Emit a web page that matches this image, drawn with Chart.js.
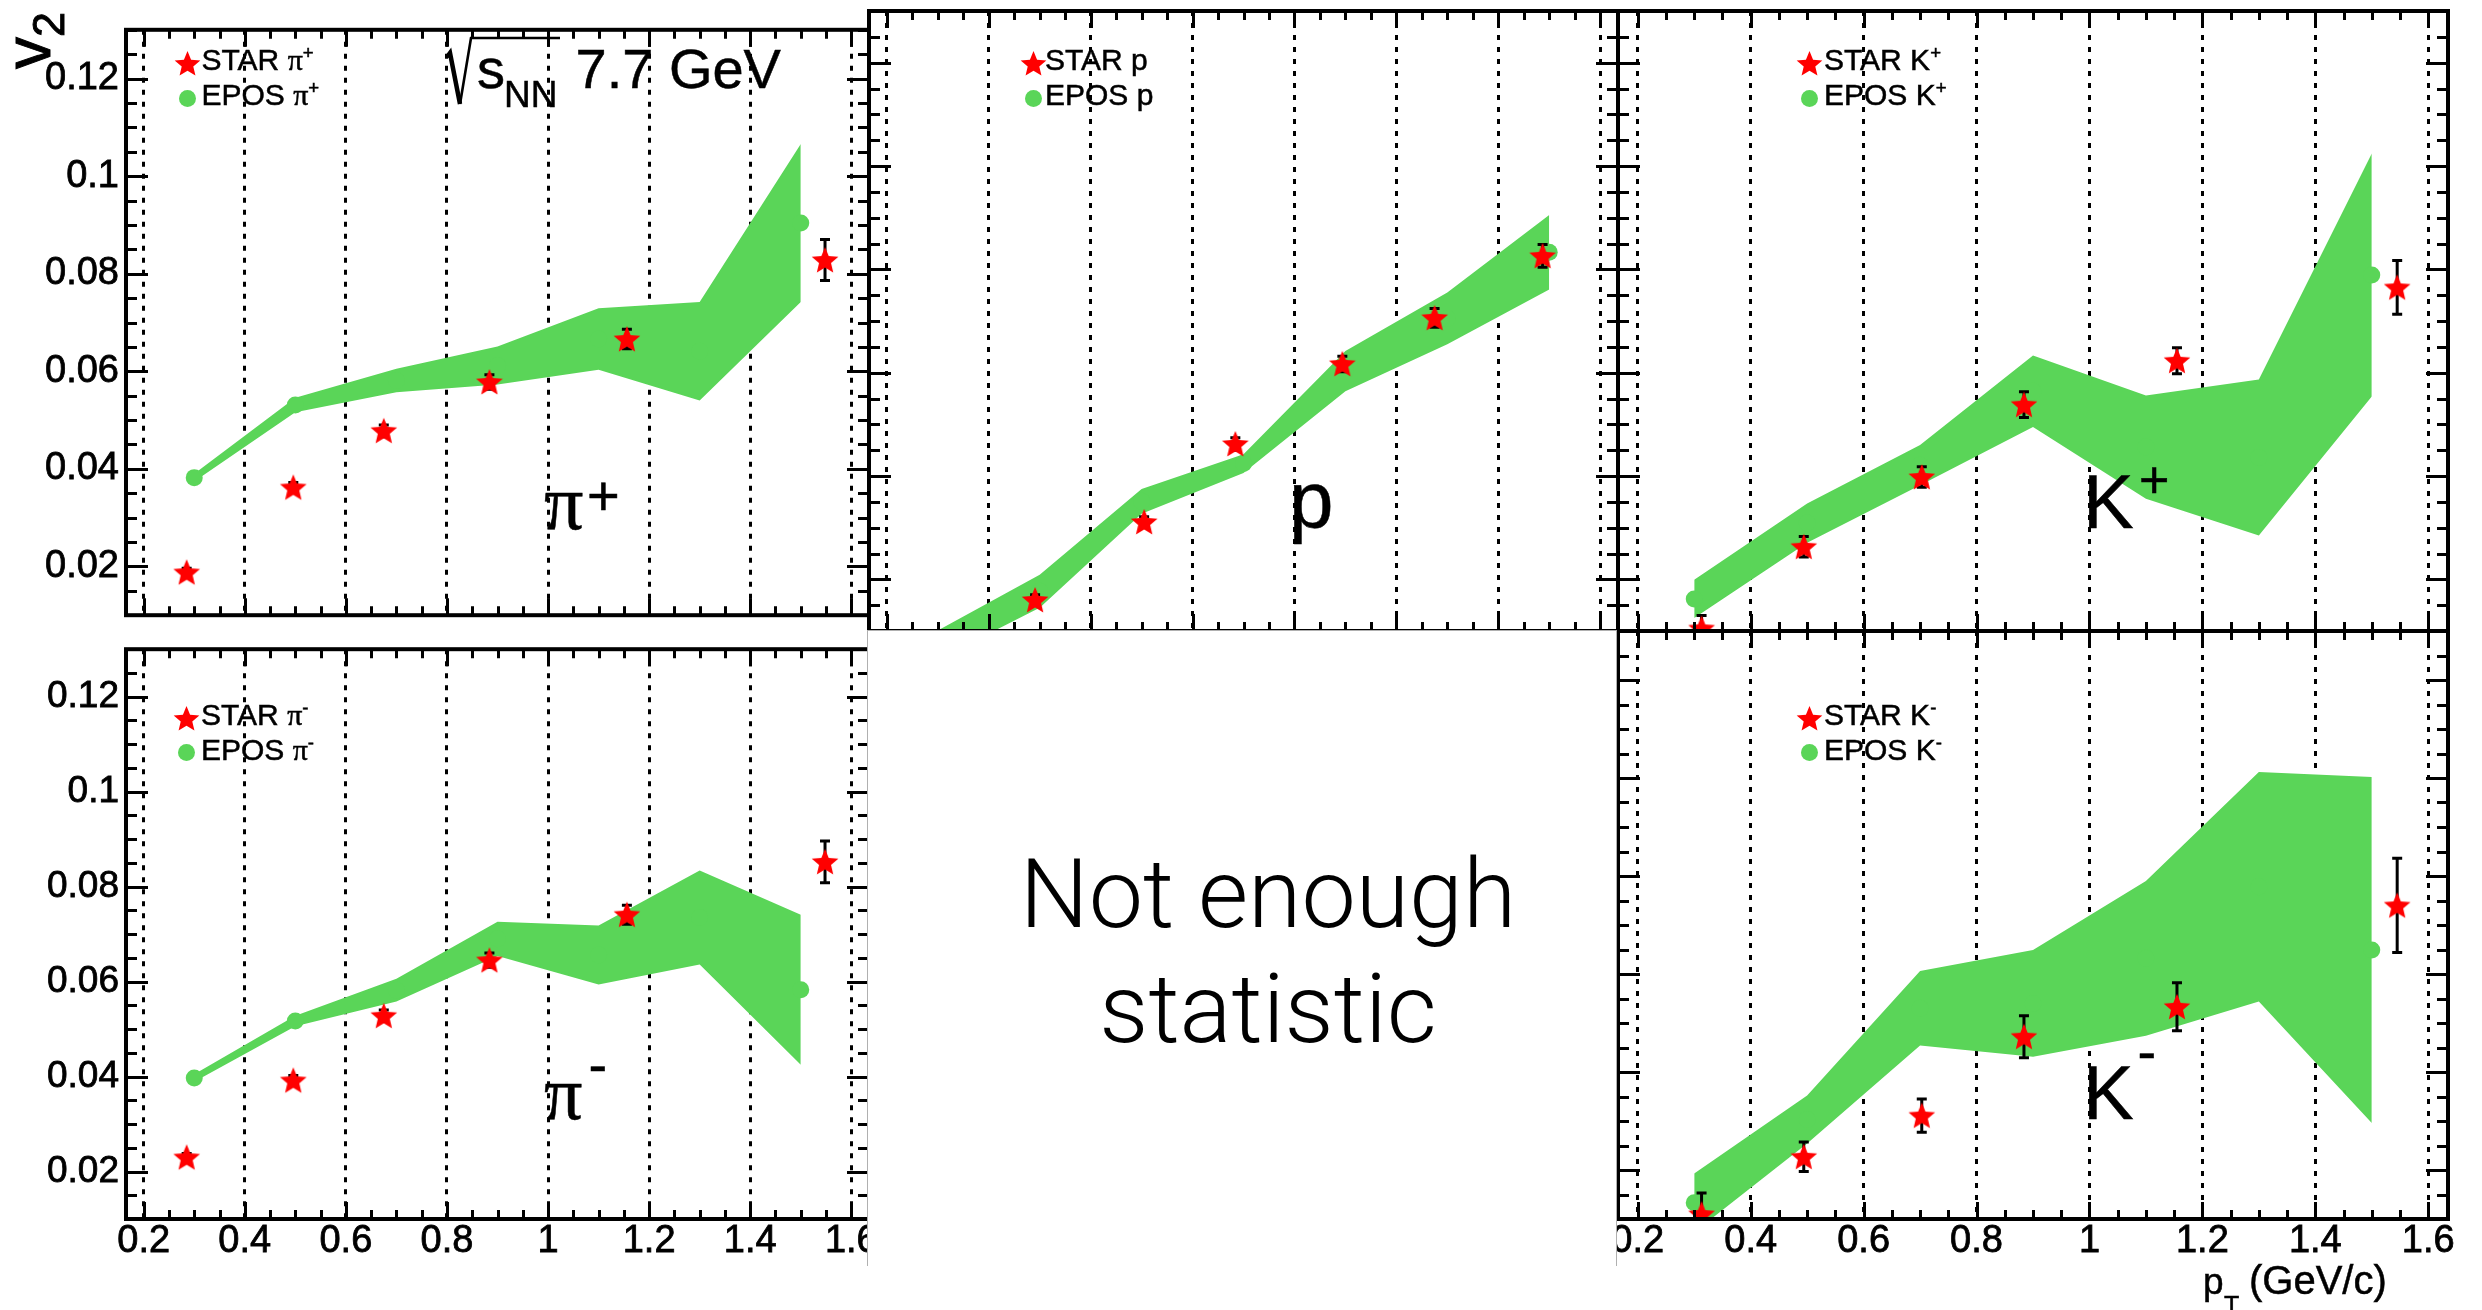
<!DOCTYPE html>
<html>
<head>
<meta charset="utf-8">
<title>v2 vs pT, STAR and EPOS, 7.7 GeV</title>
<script src="https://cdn.jsdelivr.net/npm/chart.js@4.4.1/dist/chart.umd.min.js"></script>
<style>
  html, body { margin: 0; padding: 0; background: #fff; }
  #stage { position: relative; width: 2482px; height: 1310px; overflow: hidden; background: #fff;
           font-family: 'Liberation Sans', Arial, Helvetica, sans-serif; color: #000; }
  #stage canvas { position: absolute; }
  .t { position: absolute; white-space: nowrap; line-height: 1; -webkit-text-stroke: 0.5px #000; }
  .serif { font-family: 'Liberation Serif', 'Times New Roman', serif; }
  .sup { position: relative; top: -0.55em; font-size: 0.62em; }
  #nostat { position: absolute; left: 867px; top: 630px; width: 748px; height: 635px; background: #fff;
            border: 1px solid #b0b0b0; border-bottom: none; }
  .t.light { font-family: Roboto, 'Open Sans', Lato, sans-serif; font-weight: 300; -webkit-text-stroke: 0; }
</style>
</head>
<body>
<div id="stage"></div>
<script>
// ---------------- data ----------------
// transverse momentum of the EPOS calculation (GeV/c)
const EPOS_PT = [0.3, 0.5, 0.7, 0.9, 1.1, 1.3, 1.5];

// transverse momentum of the STAR measurements (GeV/c)
const STAR_PT_PION   = [0.285, 0.496, 0.675, 0.884, 1.156, 1.548];
const STAR_PT_KAON   = [0.313, 0.494, 0.703, 0.884, 1.155, 1.545];
const STAR_PT_PROTON = [0.491, 0.705, 0.884, 1.094, 1.275, 1.487];

// STAR v2 and statistical errors
const STAR_V2_PIP  = [0.0188, 0.0362, 0.0478, 0.0578, 0.0666, 0.0828];
const STAR_ERR_PIP = [0.0008, 0.0010, 0.0012, 0.0015, 0.0020, 0.0042];
const STAR_V2_P    = [0.0160, 0.0311, 0.0462, 0.0617, 0.0706, 0.0826];
const STAR_ERR_P   = [0.0010, 0.0010, 0.0012, 0.0015, 0.0018, 0.0022];
const STAR_V2_KP   = [0.0105, 0.0263, 0.0398, 0.0538, 0.0623, 0.0765];
const STAR_ERR_KP  = [0.0025, 0.0020, 0.0020, 0.0025, 0.0025, 0.0052];
const STAR_V2_PIM  = [0.0230, 0.0392, 0.0528, 0.0645, 0.0741, 0.0852];
const STAR_ERR_PIM = [0.0008, 0.0010, 0.0012, 0.0015, 0.0020, 0.0044];
const STAR_V2_KM   = [0.0110, 0.0227, 0.0311, 0.0472, 0.0533, 0.0740];
const STAR_ERR_KM  = [0.0043, 0.0030, 0.0034, 0.0043, 0.0049, 0.0096];

// EPOS v2 and its uncertainty (drawn as a band)
const EPOS_V2_PIP  = [0.0382, 0.0531, 0.0581, 0.0612, 0.0666, 0.0641, 0.0904];
const EPOS_ERR_PIP = [0.0008, 0.0015, 0.0024, 0.0039, 0.0063, 0.0101, 0.0162];
const EPOS_V2_P    = [0.0073, 0.0177, 0.0351, 0.0424, 0.0603, 0.0705, 0.0833];
const EPOS_ERR_P   = [0.0028, 0.0032, 0.0024, 0.0018, 0.0039, 0.0050, 0.0072];
const EPOS_V2_KP   = [0.0162, 0.0309, 0.0421, 0.0564, 0.0456, 0.0436, 0.0789];
const EPOS_ERR_KP  = [0.0037, 0.0038, 0.0039, 0.0069, 0.0100, 0.0151, 0.0235];
const EPOS_V2_PIM  = [0.0397, 0.0517, 0.0582, 0.0690, 0.0656, 0.0735, 0.0583];
const EPOS_ERR_PIM = [0.0008, 0.0011, 0.0024, 0.0036, 0.0062, 0.0099, 0.0158];
const EPOS_V2_KM   = [0.0133, 0.0303, 0.0530, 0.0540, 0.0632, 0.0778, 0.0649];
const EPOS_ERR_KM  = [0.0060, 0.0049, 0.0076, 0.0109, 0.0158, 0.0234, 0.0353];

// axes
const X_MIN = 0.165, X_MAX = 1.635;
const Y_MIN = 0.01,  Y_MAX = 0.13;
const X_TICKS = [0.2, 0.4, 0.6, 0.8, 1.0, 1.2, 1.4, 1.6];
const X_TICK_LABELS = ['0.2', '0.4', '0.6', '0.8', '1', '1.2', '1.4', '1.6'];
const Y_TICKS = [0.02, 0.04, 0.06, 0.08, 0.10, 0.12];
const Y_TICK_LABELS = ['0.02', '0.04', '0.06', '0.08', '0.1', '0.12'];

// ---------------- styling ----------------
const GREEN = 'rgb(90,213,88)';
const RED = '#ff0000';
Chart.defaults.font.family = "'Liberation Sans', Arial, Helvetica, sans-serif";
Chart.defaults.color = '#000';

const stage = document.getElementById('stage');

// filled five-pointed star used as the STAR marker
function makeStar(r, color) {
  const s = Math.ceil(r * 2 + 2);
  const c = document.createElement('canvas');
  c.width = s; c.height = s;
  const g = c.getContext('2d');
  g.fillStyle = color;
  g.beginPath();
  for (let i = 0; i < 10; i++) {
    const rad = i % 2 ? r * 0.45 : r;
    const a = -Math.PI / 2 + i * Math.PI / 5;
    const px = s / 2 + rad * Math.cos(a), py = s / 2 + rad * Math.sin(a) + r * 0.08;
    if (i === 0) g.moveTo(px, py); else g.lineTo(px, py);
  }
  g.closePath();
  g.fill();
  return c;
}
const starImg = makeStar(14, RED);

// frame with ticks on all four sides, pointing inwards
const frameTicks = {
  id: 'frameTicks',
  afterDraw(chart) {
    const { ctx, chartArea: a, scales: { x, y } } = chart;
    ctx.save();
    ctx.strokeStyle = '#000';
    ctx.lineWidth = 3;
    ctx.beginPath();
    for (let i = 3; i <= 33; i++) {
      const v = i * 0.05;
      if (v < x.min || v > x.max) continue;
      const px = Math.round(x.getPixelForValue(v)) + 0.5;
      const len = i % 4 === 0 ? 17 : 9;
      ctx.moveTo(px, a.bottom); ctx.lineTo(px, a.bottom - len);
      ctx.moveTo(px, a.top); ctx.lineTo(px, a.top + len);
    }
    for (let i = 2; i <= 26; i++) {
      const v = i * 0.005;
      if (v < y.min - 1e-9 || v > y.max + 1e-9) continue;
      const py = Math.round(y.getPixelForValue(v)) + 0.5;
      const len = i % 4 === 0 ? 22 : 11;
      ctx.moveTo(a.left, py); ctx.lineTo(a.left + len, py);
      ctx.moveTo(a.right, py); ctx.lineTo(a.right - len, py);
    }
    ctx.stroke();
    ctx.lineWidth = 4;
    ctx.strokeRect(a.left, a.top, a.right - a.left, a.bottom - a.top);
    ctx.restore();
  }
};

// vertical error bars with end caps, drawn just under the markers
const errorBars = {
  id: 'errorBars',
  beforeDatasetDraw(chart, args) {
    const ds = chart.data.datasets[args.index];
    if (!ds.errors) return;
    const { ctx, chartArea: a, scales: { y } } = chart;
    ctx.save();
    ctx.beginPath();
    ctx.rect(a.left, a.top, a.right - a.left, a.bottom - a.top);
    ctx.clip();
    ctx.strokeStyle = '#000';
    ctx.lineWidth = 3;
    args.meta.data.forEach((pt, i) => {
      const v = ds.data[i].y, e = ds.errors[i];
      const y1 = y.getPixelForValue(v + e), y2 = y.getPixelForValue(v - e);
      ctx.beginPath();
      ctx.moveTo(pt.x, y1); ctx.lineTo(pt.x, y2);
      ctx.moveTo(pt.x - 5, y1); ctx.lineTo(pt.x + 5, y1);
      ctx.moveTo(pt.x - 5, y2); ctx.lineTo(pt.x + 5, y2);
      ctx.stroke();
    });
    ctx.restore();
  }
};

const PANELS = [
  { frame: { l: 126, t: 11, r: 869, b: 631 }, yLabels: true, xLabels: false, yFont: 38,
    starPt: STAR_PT_PION, starV2: STAR_V2_PIP, starErr: STAR_ERR_PIP, eposV2: EPOS_V2_PIP, eposErr: EPOS_ERR_PIP },
  { frame: { l: 869, t: 11, r: 1618, b: 631 }, yLabels: false, xLabels: false, yFont: 38,
    starPt: STAR_PT_PROTON, starV2: STAR_V2_P, starErr: STAR_ERR_P, eposV2: EPOS_V2_P, eposErr: EPOS_ERR_P },
  { frame: { l: 1618, t: 11, r: 2448, b: 631 }, yLabels: false, xLabels: false, yFont: 38,
    starPt: STAR_PT_KAON, starV2: STAR_V2_KP, starErr: STAR_ERR_KP, eposV2: EPOS_V2_KP, eposErr: EPOS_ERR_KP },
  { frame: { l: 126, t: 631, r: 869, b: 1219 }, yLabels: true, xLabels: true, yFont: 37,
    starPt: STAR_PT_PION, starV2: STAR_V2_PIM, starErr: STAR_ERR_PIM, eposV2: EPOS_V2_PIM, eposErr: EPOS_ERR_PIM },
  { frame: { l: 1618, t: 631, r: 2448, b: 1219 }, yLabels: false, xLabels: true, yFont: 37,
    starPt: STAR_PT_KAON, starV2: STAR_V2_KM, starErr: STAR_ERR_KM, eposV2: EPOS_V2_KM, eposErr: EPOS_ERR_KM }
];

function buildPanel(p) {
  const f = p.frame;
  const cl = p.yLabels ? 0 : f.l - 24;
  const ct = f.t - 11;
  const cr = f.r + 14;
  const cb = p.xLabels ? 1310 : f.b + 14;
  const cv = document.createElement('canvas');
  cv.width = cr - cl; cv.height = cb - ct;
  cv.style.left = cl + 'px'; cv.style.top = ct + 'px';
  cv.style.width = (cr - cl) + 'px'; cv.style.height = (cb - ct) + 'px';
  stage.appendChild(cv);

  const upper = EPOS_PT.map((x, i) => ({ x, y: p.eposV2[i] + p.eposErr[i] }));
  const lower = EPOS_PT.map((x, i) => ({ x, y: p.eposV2[i] - p.eposErr[i] }));

  new Chart(cv, {
    type: 'scatter',
    data: {
      datasets: [
        { label: 'STAR', data: p.starPt.map((x, i) => ({ x, y: p.starV2[i] })), errors: p.starErr,
          pointStyle: starImg, pointRadius: 14, pointHoverRadius: 14, clip: 0 },
        { label: 'EPOS', data: EPOS_PT.map((x, i) => ({ x, y: p.eposV2[i] })),
          pointStyle: 'circle', pointRadius: 8.5, pointHoverRadius: 8.5,
          backgroundColor: GREEN, borderColor: GREEN, borderWidth: 0, clip: 0 },
        { type: 'line', label: 'EPOS upper', data: upper, showLine: true, pointRadius: 0,
          borderWidth: 1, borderColor: 'rgba(0,0,0,0)', fill: false, clip: 0 },
        { type: 'line', label: 'EPOS lower', data: lower, showLine: true, pointRadius: 0,
          borderWidth: 1, borderColor: 'rgba(0,0,0,0)', backgroundColor: GREEN, fill: '-1', clip: 0 }
      ]
    },
    options: {
      responsive: false, animation: false, devicePixelRatio: 1, events: [],
      layout: { autoPadding: false,
        padding: { left: p.yLabels ? 0 : f.l - cl, top: f.t - ct, right: cr - f.r, bottom: p.xLabels ? 0 : cb - f.b } },
      plugins: { legend: { display: false }, tooltip: { enabled: false } },
      scales: {
        x: {
          type: 'linear', min: X_MIN, max: X_MAX, display: true,
          afterBuildTicks: s => { s.ticks = X_TICKS.map(v => ({ value: v })); },
          afterFit: s => { s.height = p.xLabels ? cb - f.b : 0; },
          grid: { display: true, drawTicks: false, color: '#000', lineWidth: 3 },
          border: { display: false, dash: [5, 7] },
          ticks: { display: p.xLabels, autoSkip: false, maxRotation: 0, padding: 0,
                   font: { size: 38 }, color: '#000', textStrokeColor: '#000', textStrokeWidth: 0.8,
                   callback: (v, i) => X_TICK_LABELS[i] }
        },
        y: {
          type: 'linear', min: Y_MIN, max: Y_MAX, display: p.yLabels,
          afterBuildTicks: s => { s.ticks = Y_TICKS.map(v => ({ value: v })); },
          afterFit: s => { s.width = p.yLabels ? f.l - cl : 0; },
          grid: { display: false, drawTicks: false },
          border: { display: false },
          ticks: { display: true, padding: 7, font: { size: p.yFont }, color: '#000',
                   textStrokeColor: '#000', textStrokeWidth: 0.8,
                   callback: (v, i) => Y_TICK_LABELS[i] }
        }
      }
    },
    plugins: [errorBars, frameTicks]
  });
}
PANELS.forEach(buildPanel);

// ---------------- text layer ----------------
function addText(html, x, baseline, size, cls, style) {
  const d = document.createElement('div');
  d.className = 't ' + (cls || '');
  d.style.fontSize = size + 'px';
  d.style.left = x + 'px';
  d.style.top = (baseline - 0.8465 * size) + 'px';
  if (style) Object.assign(d.style, style);
  d.innerHTML = html;
  stage.appendChild(d);
  return d;
}

// legends
const LEGENDS = [
  { sx: 187,  sy: 63,  cy: 98,  tx: 201.5, b1: 70,  b2: 105, part: '<span class="serif">π</span><span class="sup">+</span>' },
  { sx: 1033, sy: 63,  cy: 98,  tx: 1045,  b1: 70,  b2: 105, part: 'p' },
  { sx: 1809, sy: 63,  cy: 98,  tx: 1824,  b1: 70,  b2: 105, part: 'K<span class="sup">+</span>' },
  { sx: 186,  sy: 718, cy: 752, tx: 201,   b1: 725, b2: 760, part: '<span class="serif">π</span><span class="sup">-</span>' },
  { sx: 1809, sy: 718, cy: 752, tx: 1824,  b1: 725, b2: 760, part: 'K<span class="sup">-</span>' }
];
LEGENDS.forEach(L => {
  const m = makeStar(13.5, RED);
  m.style.left = (L.sx - m.width / 2) + 'px';
  m.style.top = (L.sy - m.height / 2) + 'px';
  stage.appendChild(m);
  const c = document.createElement('div');
  Object.assign(c.style, { position: 'absolute', left: (L.sx - 8.5) + 'px', top: (L.cy - 8.5) + 'px',
    width: '17px', height: '17px', borderRadius: '50%', background: GREEN });
  stage.appendChild(c);
  addText('STAR ' + L.part, L.tx, L.b1, 30);
  addText('EPOS ' + L.part, L.tx, L.b2, 30);
});

// particle labels
addText('π', 544, 530, 78, 'serif');
addText('+', 587, 515, 56);
addText('p', 1289, 528, 80);
addText('K', 2083, 528, 76);
addText('+', 2139, 498, 52);
addText('π', 544, 1119, 76, 'serif');
addText('-', 588.5, 1084, 56);
addText('K', 2083, 1119, 76);
addText('-', 2137.5, 1071, 56);

// collision energy label with a drawn radical sign
const NS = 'http://www.w3.org/2000/svg';
const svg = document.createElementNS(NS, 'svg');
svg.setAttribute('width', '2482'); svg.setAttribute('height', '140');
Object.assign(svg.style, { position: 'absolute', left: '0px', top: '0px' });
const rad1 = document.createElementNS(NS, 'path');
rad1.setAttribute('d', 'M 447 57 L 450 53 L 460 104');
rad1.setAttribute('stroke', '#000'); rad1.setAttribute('stroke-width', '4.5'); rad1.setAttribute('fill', 'none');
const rad2 = document.createElementNS(NS, 'path');
rad2.setAttribute('d', 'M 460 104 L 471 38 L 560 38');
rad2.setAttribute('stroke', '#000'); rad2.setAttribute('stroke-width', '2.6'); rad2.setAttribute('fill', 'none');
svg.appendChild(rad1); svg.appendChild(rad2);
stage.appendChild(svg);
addText('s', 477, 88, 56);
addText('NN', 504, 107, 37);
addText('7.7 GeV', 575.5, 88, 56);

// axis titles
const yTitle = document.createElement('div');
yTitle.className = 't';
Object.assign(yTitle.style, { left: '-4px', top: '69px', fontSize: '64px', height: '64px',
  transform: 'rotate(-90deg)', transformOrigin: '0 0', webkitTextStroke: '1px #000' });
yTitle.innerHTML = 'v<span style="position:relative;top:0.31em;font-size:0.7em">2</span>';
stage.appendChild(yTitle);

addText('p', 2203, 1294, 37);
addText('T', 2224, 1314, 25);
addText('(GeV/c)', 2249, 1294, 40);

// empty bottom-centre pad
const box = document.createElement('div');
box.id = 'nostat';
stage.appendChild(box);
addText('Not enough', 0, 928, 97, 'light', { width: '900px', textAlign: 'center', left: (1268 - 450) + 'px' });
addText('statistic', 0, 1043, 97, 'light', { width: '900px', textAlign: 'center', left: (1268 - 450) + 'px' });
</script>
</body>
</html>
